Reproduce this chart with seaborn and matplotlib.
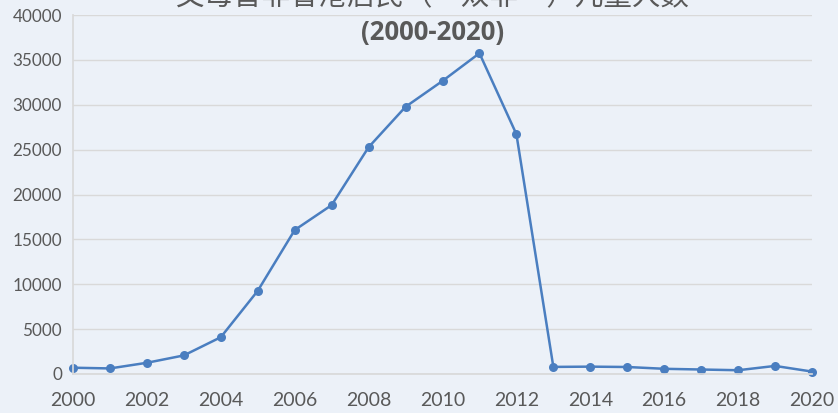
import matplotlib
matplotlib.use("Agg")
import matplotlib.pyplot as plt
import seaborn as sns
import pandas as pd

# 数据
years = [2000, 2001, 2002, 2003, 2004, 2005, 2006, 2007, 2008, 2009, 2010,
         2011, 2012, 2013, 2014, 2015, 2016, 2017, 2018, 2019, 2020]
counts = [700, 620, 1250, 2070, 4100, 9270, 16040, 18820, 25270, 29770, 32650,
          35740, 26720, 790, 820, 780, 580, 500, 420, 900, 270]
title_line1 = "父母皆非香港居民（\u201c双非\u201d）儿童人数"
title_line2 = "(2000-2020)"

df = pd.DataFrame({"year": years, "count": counts})

bg = "#ECF1F8"
grey = "#595959"
sns.set_theme(style="white", rc={"axes.facecolor": bg, "figure.facecolor": bg})
plt.rcParams["font.family"] = ["Lato", "Noto Sans CJK SC", "DejaVu Sans"]

fig = plt.figure(figsize=(8.38, 4.13), dpi=100)
ax = fig.add_axes([73 / 838, 1 - 374 / 413, (812 - 73) / 838, (374 - 15) / 413])

sns.lineplot(data=df, x="year", y="count", ax=ax, color="#4A7EC0",
             linewidth=1.8, marker="o", markersize=6.5, markeredgewidth=0,
             clip_on=False)

ax.set_xlim(2000, 2020)
ax.set_ylim(0, 40000)
ax.set_xticks(range(2000, 2021, 2))
ax.set_yticks(range(0, 40001, 5000))
ax.tick_params(axis="x", labelsize=14, colors=grey, length=0, pad=13)
ax.tick_params(axis="y", labelsize=12.3, colors=grey, length=0, pad=8)
ax.grid(axis="y", color="#D9D9D9", linewidth=1)
ax.set_axisbelow(True)
for s in ["top", "right"]:
    ax.spines[s].set_visible(False)
ax.spines["left"].set_color("#D9D9D9")
ax.spines["bottom"].set_color("#D9D9D9")
ax.set_xlabel("")
ax.set_ylabel("")

fig.text(0.516, 1.01, title_line1, ha="center", va="center", fontsize=20.5,
         color=grey, family=["Noto Sans CJK SC", "DejaVu Sans"])
fig.text(0.516, 0.922, title_line2, ha="center", va="center", fontsize=18.5,
         color=grey, fontweight="bold", family=["Open Sans", "DejaVu Sans"])

fig.savefig("out.png", dpi=100, facecolor=bg)
